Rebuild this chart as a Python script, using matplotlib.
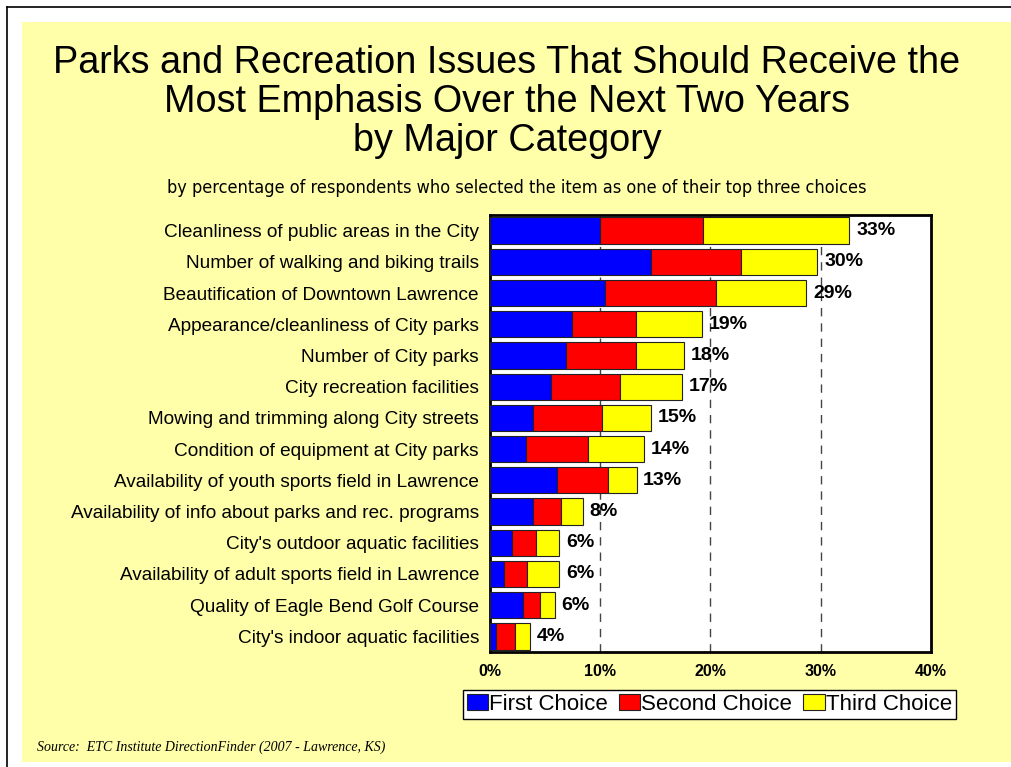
import matplotlib
matplotlib.use("Agg")
import matplotlib.pyplot as plt
from matplotlib.patches import Rectangle
from matplotlib.lines import Line2D

# Survey items, top to bottom
items = [
    "Cleanliness of public areas in the City",
    "Number of walking and biking trails",
    "Beautification of Downtown Lawrence",
    "Appearance/cleanliness of City parks",
    "Number of City parks",
    "City recreation facilities",
    "Mowing and trimming along City streets",
    "Condition of equipment at City parks",
    "Availability of youth sports field in Lawrence",
    "Availability of info about parks and rec. programs",
    "City's outdoor aquatic facilities",
    "Availability of adult sports field in Lawrence",
    "Quality of Eagle Bend Golf Course",
    "City's indoor aquatic facilities",
]
first = [10.0, 14.6, 10.4, 7.4, 6.9, 5.5, 3.9, 3.3, 6.1, 3.9, 2.0, 1.3, 3.0, 0.5]
second = [9.3, 8.2, 10.1, 5.8, 6.3, 6.3, 6.3, 5.6, 4.6, 2.5, 2.2, 2.1, 1.5, 1.8]
third = [13.3, 6.9, 8.2, 6.0, 4.4, 5.6, 4.4, 5.1, 2.6, 2.0, 2.1, 2.9, 1.4, 1.3]
xticks = [0, 10, 20, 30, 40]

W, H = 1012, 767
fig = plt.figure(figsize=(W / 100, H / 100), dpi=100, facecolor="white")

# page background and frame
fig.add_artist(Rectangle((22 / W, 1 - 762 / H), (1011 - 22) / W, (762 - 22) / H,
                         transform=fig.transFigure, facecolor="#FFFFAA",
                         edgecolor="none", zorder=-10))
fig.add_artist(Line2D([7 / W, 1], [1 - 7 / H, 1 - 7 / H], transform=fig.transFigure,
                      color="black", lw=1.2))
fig.add_artist(Line2D([7 / W, 7 / W], [0, 1 - 7 / H], transform=fig.transFigure,
                      color="black", lw=1.2))

title_kw = dict(ha="center", va="center", fontsize=27.2, family="Liberation Sans")
fig.text(507 / W, 1 - 63 / H, "Parks and Recreation Issues That Should Receive the", **title_kw)
fig.text(507 / W, 1 - 102 / H, "Most Emphasis Over the Next Two Years", **title_kw)
fig.text(507 / W, 1 - 141 / H, "by Major Category", **title_kw)
fig.text(517 / W, 1 - 188 / H,
         "by percentage of respondents who selected the item as one of their top three choices",
         ha="center", va="center", fontsize=13, fontstretch="condensed",
         family=["DejaVu Sans"])
fig.text(37 / W, 1 - 747 / H, "Source:  ETC Institute DirectionFinder (2007 - Lawrence, KS)",
         ha="left", va="center", fontsize=10, style="italic", family="Liberation Serif")

ax = fig.add_axes([490 / W, 1 - 652 / H, 441 / W, 437 / H])
ax.set_facecolor("white")

y = list(range(len(items)))
left2 = [a for a in first]
left3 = [a + b for a, b in zip(first, second)]
kw = dict(height=0.84, edgecolor="#222222", linewidth=0.8, zorder=3)
ax.barh(y, first, color="#0000FF", label="First Choice", **kw)
ax.barh(y, second, left=left2, color="#FF0000", label="Second Choice", **kw)
ax.barh(y, third, left=left3, color="#FFFF00", label="Third Choice", **kw)

for i in y:
    total = first[i] + second[i] + third[i]
    ax.text(total + 0.6, i, f"{round(total)}%", va="center", ha="left",
            fontsize=14, fontweight="bold", family="Liberation Sans", zorder=4)

ax.set_ylim(len(items) - 0.5, -0.5)
ax.set_xlim(0, 40)
ax.set_xticks(xticks)
ax.set_xticklabels([f"{t}%" for t in xticks], fontsize=11.5, fontweight="bold",
                   family="Liberation Sans")
ax.set_yticks(y)
ax.set_yticklabels(items, fontsize=13.7, family="Liberation Sans")
ax.tick_params(length=0, pad=8)
ax.tick_params(axis="x", pad=9)

for t in xticks[1:-1]:
    ax.axvline(t, color="#444444", lw=1, ls=(0, (6, 5)), zorder=1)

for s in ax.spines.values():
    s.set_linewidth(2)
    s.set_color("black")

fig.legend(loc="center", bbox_to_anchor=(709.5 / W, 1 - 704.5 / H), ncol=3,
           fancybox=False, edgecolor="black", framealpha=1, facecolor="white",
           handlelength=0.95, handleheight=0.7, handletextpad=0.05,
           columnspacing=0.5, borderpad=0.2, borderaxespad=0,
           prop={"family": "Liberation Sans", "size": 16})

fig.savefig("out.png", dpi=100, facecolor="white")
